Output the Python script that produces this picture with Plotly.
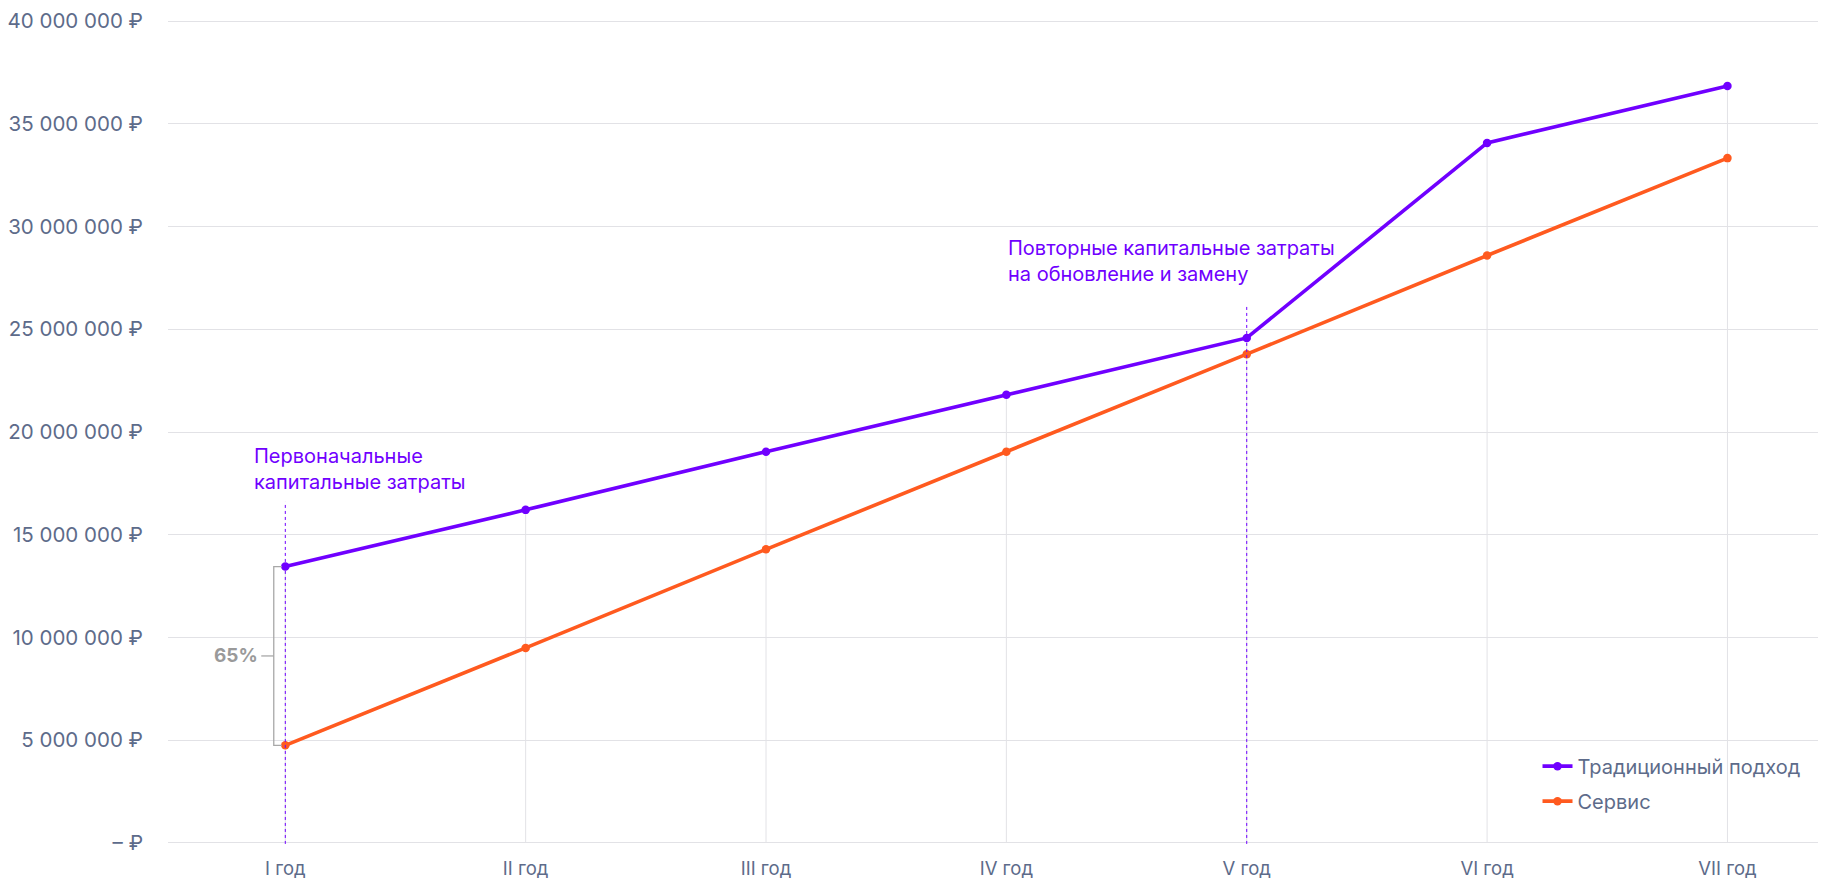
import plotly.graph_objects as go

categories = ["I год", "II год", "III год", "IV год", "V год", "VI год", "VII год"]
traditional = [13.45e6, 16.21e6, 19.04e6, 21.81e6, 24.58e6, 34.07e6, 36.84e6]
service = [4.75e6, 9.49e6, 14.29e6, 19.04e6, 23.79e6, 28.59e6, 33.33e6]
series_names = ["Традиционный подход", "Сервис"]
y_ticks = [0, 5e6, 10e6, 15e6, 20e6, 25e6, 30e6, 35e6, 40e6]
y_ticktext = ["– ₽"] + [f"{int(v):,}".replace(",", " ") + " ₽" for v in y_ticks[1:]]
marker_lines = [(0, 16.6e6), (4, 26.1e6)]  # category index, top value
annotation_texts = ["Первоначальные<br>капитальные затраты",
                    "Повторные капитальные затраты<br>на обновление и замену"]
gap_label = "65%"

PURPLE = "#7000FF"
ORANGE = "#FF5A1F"
TEXT = "#5D6B8A"
GRID = "#E2E2E6"
FONT = "Inter"

xi = list(range(len(categories)))

fig = go.Figure()

shapes = []
for i, v in zip(xi, traditional):
    shapes.append(dict(type="line", xref="x", yref="y", x0=i, x1=i, y0=0, y1=v,
                       line=dict(color=GRID, width=1), layer="below"))
for i, top in marker_lines:
    shapes.append(dict(type="line", xref="x", yref="y", x0=i, x1=i, y0=-0.05e6, y1=top,
                       line=dict(color=PURPLE, width=1, dash="3px,3px"), layer="above"))

t0, s0 = traditional[0], service[0]
mid = (t0 + s0) / 2
bx, bx_in, bx_out = -0.048, -0.014, -0.10
shapes.append(dict(type="path", xref="x", yref="y",
                   path=f"M {bx_in},{t0} L {bx},{t0} L {bx},{s0} L {bx_in},{s0}",
                   line=dict(color="#A8A8A8", width=1.3)))
shapes.append(dict(type="line", xref="x", yref="y", x0=bx, x1=bx_out, y0=mid, y1=mid,
                   line=dict(color="#A8A8A8", width=1.3)))

fig.add_trace(go.Scatter(x=xi, y=traditional, name=series_names[0], mode="lines+markers",
                         line=dict(color=PURPLE, width=3.6), marker=dict(size=8.5, color=PURPLE),
                         legendgroup="a", cliponaxis=False))
fig.add_trace(go.Scatter(x=xi, y=service, name=series_names[1], mode="lines+markers",
                         line=dict(color=ORANGE, width=3.6), marker=dict(size=8.5, color=ORANGE),
                         legendgroup="b", cliponaxis=False))

annotations = [
    dict(x=-0.14, y=18.2e6, xref="x", yref="y", text=annotation_texts[0], showarrow=False,
         xanchor="left", yanchor="middle", align="left",
         font=dict(family=FONT, size=20, color=PURPLE)),
    dict(x=3.0, y=28.3e6, xref="x", yref="y", text=annotation_texts[1], showarrow=False,
         xanchor="left", yanchor="middle", align="left",
         font=dict(family=FONT, size=20, color=PURPLE)),
    dict(x=bx_out - 0.005, y=mid, xref="x", yref="y", text=f"<b>{gap_label}</b>", showarrow=False,
         xanchor="right", yanchor="middle",
         font=dict(family=FONT, size=19, color="#9A9A9A")),
]

fig.update_layout(
    width=1818, height=882,
    margin=dict(l=158, r=0, t=7.5, b=44),
    paper_bgcolor="white", plot_bgcolor="white",
    font=dict(family=FONT, size=18, color=TEXT),
    shapes=shapes, annotations=annotations,
    showlegend=True,
    legend=dict(x=0.826, y=0.12, xanchor="left", yanchor="top",
                bgcolor="rgba(0,0,0,0)", font=dict(family=FONT, size=20, color=TEXT),
                tracegroupgap=6, traceorder="grouped", itemwidth=30),
    xaxis=dict(range=[-0.488, 6.41], tickvals=xi, ticktext=categories, showgrid=False,
               zeroline=False, showline=False, ticks="", ticklabelstandoff=9,
               tickfont=dict(family=FONT, size=18.5, color=TEXT)),
    yaxis=dict(range=[-0.15e6, 40.15e6], tickvals=y_ticks, ticktext=y_ticktext, showgrid=True,
               gridcolor=GRID, gridwidth=1, zeroline=False, showline=False, ticks="",
               ticklabelstandoff=24, ticklabeloverflow="allow",
               tickfont=dict(family=FONT, size=20.5, color=TEXT)),
)

fig.write_html("out.html")
